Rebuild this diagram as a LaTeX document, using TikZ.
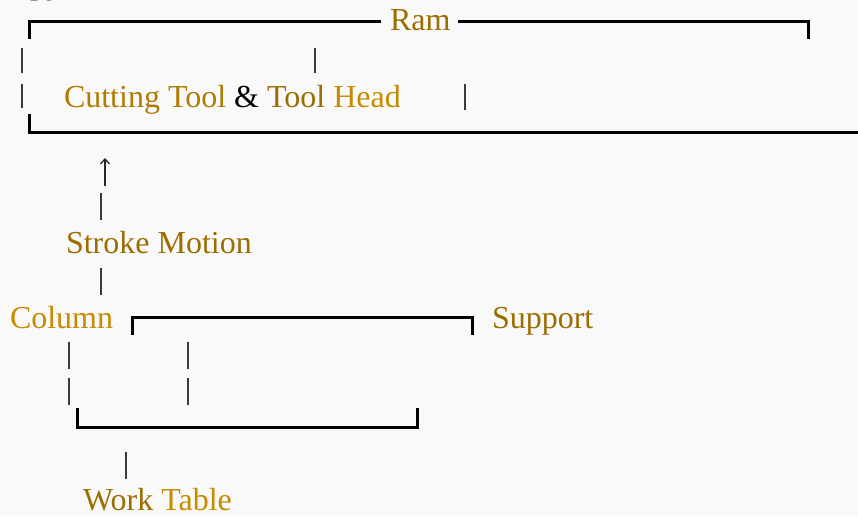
\documentclass[tikz,border=0pt]{standalone}
\usepackage{fontspec}
\setmainfont{Liberation Serif}
\usetikzlibrary{arrows.meta}
\definecolor{bg}{HTML}{F9F9F9}
\definecolor{golddark}{HTML}{9C6E00}
\definecolor{goldmid}{HTML}{AE7C00}
\definecolor{goldlight}{HTML}{C78B00}
\definecolor{barcol}{HTML}{3A3A3A}
\begin{document}
\begin{tikzpicture}[x=1pt,y=-1pt,
  lbl/.style={anchor=base west,inner sep=0pt,outer sep=0pt,
    font=\fontsize{32}{38}\selectfont},
  brk/.style={draw=black,line width=3pt},
  bar/.style={draw=barcol,line width=1.2pt}]
  \useasboundingbox (0,0) rectangle (858,516);
  \fill[bg] (0,0) rectangle (858,516);
  \begin{scope}
    \clip (0,0) rectangle (858,516);
    % cut-off caption line at the very top
    \node[lbl,text=gray] (cap) at (30,-5) {py};

    % Ram bracket
    \node[lbl,text=golddark] (ram) at (390,31) {Ram};
    \coordinate (ramL) at (29,39);
    \coordinate (ramR) at (808,39);
    \draw[brk] (ramL) -- (29,22) -- (381,22);
    \draw[brk] (458,22) -- (808,22) -- (ramR);

    % side bars of the ram box
    \draw[bar] (22,48) -- (22,73);
    \draw[bar] (22,84) -- (22,108);
    \draw[bar] (315,48) -- (315,73);
    \draw[bar] (465,84) -- (465,110);

    % tool head label
    \node[lbl] (tool) at (64,107) {\textcolor{goldmid}{Cutting Tool} \textcolor{black}{\&} \textcolor{golddark}{Tool} \textcolor{goldlight}{Head}};

    % lower edge of the ram box
    \coordinate (baseL) at (29,114);
    \draw[brk] (baseL) -- (29,132) -- (858,132);

    % stroke motion
    \coordinate (arrTop) at (105,158);
    \coordinate (arrBot) at (105,186);
    \draw[draw=black!85,line width=1.3pt,-{Straight Barb[length=5pt,width=9pt]}] (arrBot) -- (arrTop);
    \draw[bar] (101,193) -- (101,220);
    \node[lbl,text=golddark] (stroke) at (66,253) {Stroke Motion};
    \draw[bar] (101,268) -- (101,295);

    % column and support
    \node[lbl,text=goldlight] (column) at (10,328) {Column};
    \node[lbl,text=golddark] (support) at (492,328) {Support};
    \draw[brk] (132,335) -- (132,317) -- (472,317) -- (472,335);

    \draw[bar] (69,342) -- (69,369);
    \draw[bar] (69,378) -- (69,405);
    \draw[bar] (188,342) -- (188,369);
    \draw[bar] (188,378) -- (188,405);

    % work table bracket
    \draw[brk] (77,408) -- (77,427) -- (417,427) -- (417,408);
    \draw[bar] (126,452) -- (126,479);
    \node[lbl] (table) at (83,510) {\textcolor{golddark}{Work} \textcolor{goldlight}{Table}};
  \end{scope}
\end{tikzpicture}
\end{document}
